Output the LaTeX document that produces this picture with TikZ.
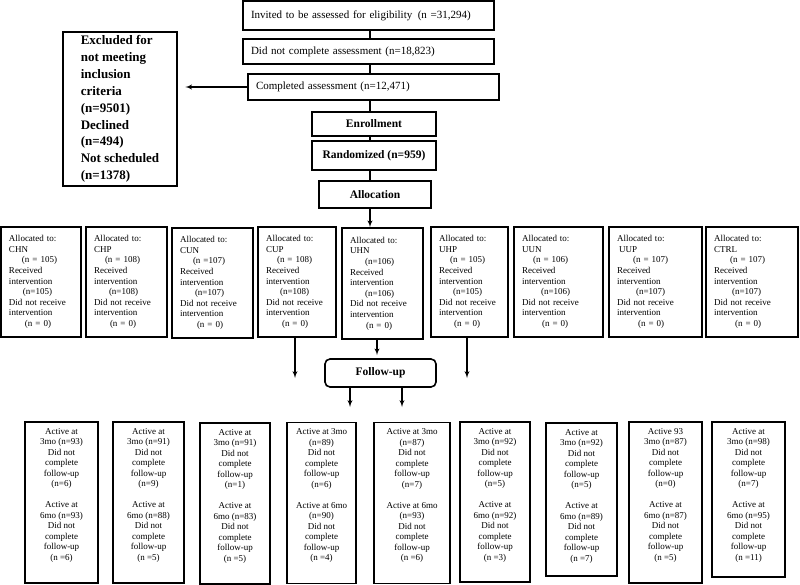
\documentclass[tikz,border=0pt]{standalone}
\usepackage{fontspec}
\setmainfont{Liberation Serif}
\usepackage{tikz}
\usetikzlibrary{shapes,arrows,positioning,calc}
\newcommand{\indn}[1]{\hspace*{#1pt}}

\begin{document}
\begin{tikzpicture}[x=1pt, y=-1pt, >=latex']
\tikzset{
topbox/.style   = {draw, shape=rectangle, line width=1.6pt, font=\fontsize{11}{13}\selectfont, align=left, inner xsep=8pt, inner ysep=0pt},
headbox/.style  = {draw, shape=rectangle, line width=1.6pt, font=\bfseries\fontsize{11.5}{13}\selectfont, inner sep=0pt},
exclbox/.style  = {draw, shape=rectangle, line width=2.6pt, font=\bfseries\fontsize{13}{16.9}\selectfont, align=left, minimum width=114pt, minimum height=150pt},
allocbox/.style = {draw, shape=rectangle, line width=1.6pt, font=\fontsize{9}{10.6}\selectfont, align=left, inner xsep=8pt, minimum height=110pt},
fubox/.style    = {draw, shape=rectangle, line width=1.6pt, minimum height=161pt},
futext/.style   = {font=\fontsize{9}{10.5}\selectfont, align=center, anchor=north, inner sep=0pt, yshift=-7pt},
conn/.style     = {line width=1.3pt},
coord/.style    = {coordinate},
}
\useasboundingbox (0,0) rectangle (800,585);

    % Screening nodes
    \node [topbox, text width=235pt, minimum height=29pt] (invited)   at (368.5,15.5) {Invited to be assessed for eligibility\enspace(n =31,294)};
    \node [topbox, text width=235pt, minimum height=25pt] (notcomp)   at (368.5,51.5) {Did not complete assessment (n=18,823)};
    \node [topbox, text width=235pt, minimum height=26pt] (completed) at (373.5,87)   {Completed assessment (n=12,471)};
    \node [exclbox]                                       (excl)      at (120,109)    {Excluded for\\not meeting\\inclusion\\criteria\\(n=9501)\\Declined\\(n=494)\\Not scheduled\\(n=1378)};
    \node [headbox, minimum width=124pt, minimum height=24pt] (enroll) at (374,124)   {Enrollment};
    \node [headbox, minimum width=124pt, minimum height=29pt] (random) at (374,155.5) {Randomized (n=959)};
    \node [headbox, minimum width=112pt, minimum height=27pt] (alloc)  at (375,194.5) {Allocation};
    \coordinate (spine) at (370,0);

    % Screening edges
    \draw [conn] (invited.south -| spine) -- (notcomp.north -| spine);
    \draw [conn] (notcomp.south -| spine) -- (completed.north -| spine);
    \draw [conn] (completed.south -| spine) -- (enroll.north -| spine);
    \draw [conn] (enroll.south -| spine) -- (random.north -| spine);
    \draw [conn] (random.south -| spine) -- (alloc.north -| spine);
    \draw [conn, ->, shorten >=7pt] (completed.west) -- (completed.west -| excl.east);

    % Allocation nodes
    \node [allocbox, text width=64pt] (chn)  at (41,282)    {Allocated to:\\CHN\\\indn{13}(n = 105)\\Received\\intervention\\\indn{14}(n=105)\\Did not receive\\intervention\\\indn{16}(n = 0)};
    \node [allocbox, text width=65pt] (chp)  at (126.5,282) {Allocated to:\\CHP\\\indn{11}(n = 108)\\Received\\intervention\\\indn{15}(n=108)\\Did not receive\\intervention\\\indn{16}(n = 0)};
    \node [allocbox, text width=65pt] (cun)  at (212.5,283) {Allocated to:\\CUN\\\indn{13}(n =107)\\Received\\intervention\\\indn{15}(n=107)\\Did not receive\\intervention\\\indn{17}(n = 0)};
    \node [allocbox, text width=62pt] (cup)  at (297,282)   {Allocated to:\\CUP\\\indn{11}(n = 108)\\Received\\intervention\\\indn{14}(n=108)\\Did not receive\\intervention\\\indn{16}(n = 0)};
    \node [allocbox, text width=65pt, minimum height=111pt] (uhn) at (382.5,283.5) {Allocated to:\\UHN\\\indn{15}(n=106)\\Received\\intervention\\\indn{15}(n=106)\\Did not receive\\intervention\\\indn{16}(n = 0)};
    \node [allocbox, text width=61pt] (uhp)  at (469.5,282) {Allocated to:\\UHP\\\indn{11}(n = 105)\\Received\\intervention\\\indn{14}(n=105)\\Did not receive\\intervention\\\indn{15}(n = 0)};
    \node [allocbox, text width=73pt] (uun)  at (558.5,282) {Allocated to:\\UUN\\\indn{11}(n = 106)\\Received\\intervention\\\indn{19}(n=106)\\Did not receive\\intervention\\\indn{20}(n = 0)};
    \node [allocbox, text width=77pt] (uup)  at (655.5,282) {Allocated to:\\\indn{2}UUP\\\indn{16}(n = 107)\\Received\\intervention\\\indn{19}(n=107)\\Did not receive\\intervention\\\indn{21}(n = 0)};
    \node [allocbox, text width=76pt] (ctrl) at (752,282)   {Allocated to:\\CTRL\\\indn{16}(n = 107)\\Received\\intervention\\\indn{18}(n=107)\\Did not receive\\intervention\\\indn{21}(n = 0)};

    % Follow-up nodes
    \node [headbox, rounded corners=5pt, minimum width=111pt, minimum height=28pt] (follow) at (380.5,373) {Follow-up};
    \coordinate (cupend)  at (295,378);
    \coordinate (uhpend)  at (467,378);
    \coordinate (fuleft)  at (350,407);
    \coordinate (furight) at (402,407);

    % Allocation edges
    \draw [conn, ->] (alloc.south -| spine) -- (uhn.north -| spine);
    \draw [conn, ->] (cup.south -| cupend) -- (cupend);
    \draw [conn, ->] (uhp.south -| uhpend) -- (uhpend);
    \draw [conn, ->, shorten >=3pt] ([xshift=-5.5pt]uhn.south) -- ([xshift=-5.5pt]uhn.south |- follow.north);
    \draw [conn, ->] (follow.south -| fuleft) -- (fuleft);
    \draw [conn, ->] (follow.south -| furight) -- (furight);

    % Active nodes
    \node [fubox, minimum width=73pt, label={[futext]north:{Active at\\3mo (n=93)\\Did not\\complete\\follow-up\\(n=6)\\[10.5pt]Active at\\6mo (n=93)\\Did not\\complete\\follow-up\\(n =6)}}] (fu1) at (61.5,502.5) {};
    \node [fubox, minimum width=71pt, label={[futext]north:{Active at\\3mo (n=91)\\Did not\\complete\\follow-up\\(n=9)\\[10.5pt]Active at\\6mo (n=88)\\Did not\\complete\\follow-up\\(n =5)}}] (fu2) at (148.5,502.5) {};
    \node [fubox, minimum width=70pt, label={[futext]north:{Active at\\3mo (n=91)\\Did not\\complete\\follow-up\\(n=1)\\[10.5pt]Active at\\6mo (n=83)\\Did not\\complete\\follow-up\\(n =5)}}] (fu3) at (235,503.5) {};
    \node [fubox, minimum width=69pt, label={[futext]north:{Active at 3mo\\(n=89)\\Did not\\complete\\follow-up\\(n=6)\\[10.5pt]Active at 6mo\\(n=90)\\Did not\\complete\\follow-up\\(n =4)}}] (fu4) at (321.5,503) {};
    \node [fubox, minimum width=76pt, label={[futext]north:{Active at 3mo\\(n=87)\\Did not\\complete\\follow-up\\(n=7)\\[10.5pt]Active at 6mo\\(n=93)\\Did not\\complete\\follow-up\\(n =6)}}] (fu5) at (412,503) {};
    \node [fubox, minimum width=70pt, minimum height=160pt, label={[futext]north:{Active at\\3mo (n=92)\\Did not\\complete\\follow-up\\(n=5)\\[10.5pt]Active at\\6mo (n=92)\\Did not\\complete\\follow-up\\(n =3)}}] (fu6) at (495,502) {};
    \node [fubox, minimum width=71pt, minimum height=153pt, label={[futext]north:{Active at\\3mo (n=92)\\Did not\\complete\\follow-up\\(n=5)\\[10.5pt]Active at\\6mo (n=89)\\Did not\\complete\\follow-up\\(n =7)}}] (fu7) at (581.5,499.5) {};
    \node [fubox, minimum width=73pt, label={[futext]north:{Active 93\\3mo (n=87)\\Did not\\complete\\follow-up\\(n=0)\\[10.5pt]Active at\\6mo (n=87)\\Did not\\complete\\follow-up\\(n =5)}}] (fu8) at (665.5,502.5) {};
    \node [fubox, minimum width=73pt, minimum height=155pt, label={[futext]north:{Active at\\3mo (n=98)\\Did not\\complete\\follow-up\\(n=7)\\[10.5pt]Active at\\6mo (n=95)\\Did not\\complete\\follow-up\\(n =11)}}] (fu9) at (748.5,499.5) {};

\end{tikzpicture}
\end{document}
